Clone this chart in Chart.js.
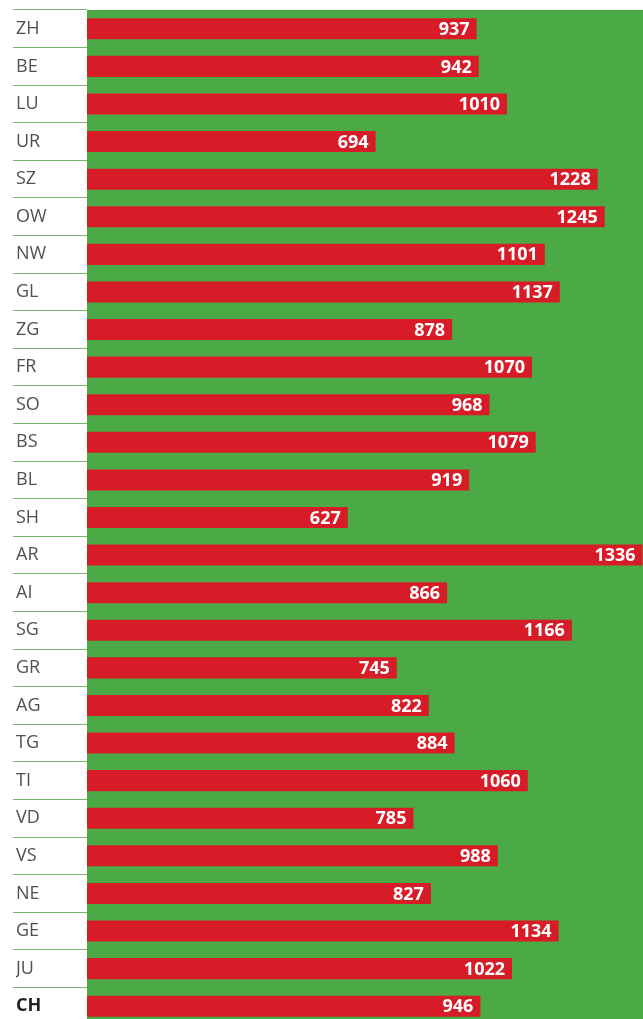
<!DOCTYPE html>
<html>
<head>
<meta charset="utf-8">
<script src="https://cdn.jsdelivr.net/npm/chart.js@4/dist/chart.umd.min.js"></script>
<style>
  html, body { margin: 0; padding: 0; background: #fff; overflow: hidden; }
  #wrap { width: 643px; height: 1019px; overflow: hidden; }
</style>
</head>
<body>
<div id="wrap"><canvas id="chart" width="643" height="1025"></canvas></div>
<script>
// Cantons, top to bottom
const cantons = ['ZH', 'BE', 'LU', 'UR', 'SZ', 'OW', 'NW', 'GL', 'ZG', 'FR', 'SO', 'BS', 'BL', 'SH',
  'AR', 'AI', 'SG', 'GR', 'AG', 'TG', 'TI', 'VD', 'VS', 'NE', 'GE', 'JU', 'CH'];
const values = [937, 942, 1010, 694, 1228, 1245, 1101, 1137, 878, 1070, 968, 1079, 919, 627,
  1336, 866, 1166, 745, 822, 884, 1060, 785, 988, 827, 1134, 1022, 946];
const xMax = 1337;

const RED = '#d71c28';
const GREEN = '#4baa45';

// green plot background
const areaBg = {
  id: 'areaBg',
  beforeDraw(chart) {
    const { ctx, chartArea: a } = chart;
    ctx.save();
    ctx.fillStyle = GREEN;
    ctx.fillRect(a.left, a.top, a.right - a.left, a.bottom - a.top);
    ctx.restore();
  }
};

// white numbers at the end of each bar
const valueLabels = {
  id: 'valueLabels',
  afterDatasetsDraw(chart) {
    const ctx = chart.ctx;
    const meta = chart.getDatasetMeta(0);
    ctx.save();
    ctx.fillStyle = '#fff';
    ctx.font = 'bold 18px "Open Sans", sans-serif';
    ctx.textAlign = 'right';
    ctx.textBaseline = 'middle';
    meta.data.forEach((bar, i) => {
      ctx.fillText(values[i], bar.x - 7, bar.y + 1);
    });
    ctx.restore();
  }
};

new Chart(document.getElementById('chart'), {
  type: 'bar',
  data: {
    labels: cantons,
    datasets: [{
      data: values,
      backgroundColor: RED,
      borderWidth: 0,
      barPercentage: 0.56,
      categoryPercentage: 1
    }]
  },
  options: {
    indexAxis: 'y',
    responsive: false,
    animation: false,
    devicePixelRatio: 1,
    layout: { padding: { left: 16, top: 10, right: 0, bottom: 0 } },
    plugins: {
      legend: { display: false },
      tooltip: { enabled: false }
    },
    scales: {
      x: {
        display: false,
        min: 0,
        max: xMax
      },
      y: {
        afterFit(scale) {
          scale.width = 71;
          // no extra room for half label heights, rows fill the whole height
          scale.paddingTop = 0;
          scale.paddingBottom = 0;
        },
        border: { display: false },
        grid: {
          offset: true,
          drawOnChartArea: false,
          drawTicks: true,
          tickLength: 74,
          color: '#78b86f',
          lineWidth: 1
        },
        ticks: {
          crossAlign: 'far',
          padding: 0,
          color: (c) => c.index === cantons.length - 1 ? '#222' : '#505050',
          font: (c) => ({
            family: '"Open Sans", sans-serif',
            size: 18,
            weight: c.index === cantons.length - 1 ? 'bold' : 'normal'
          })
        }
      }
    }
  },
  plugins: [areaBg, valueLabels]
});
</script>
</body>
</html>
